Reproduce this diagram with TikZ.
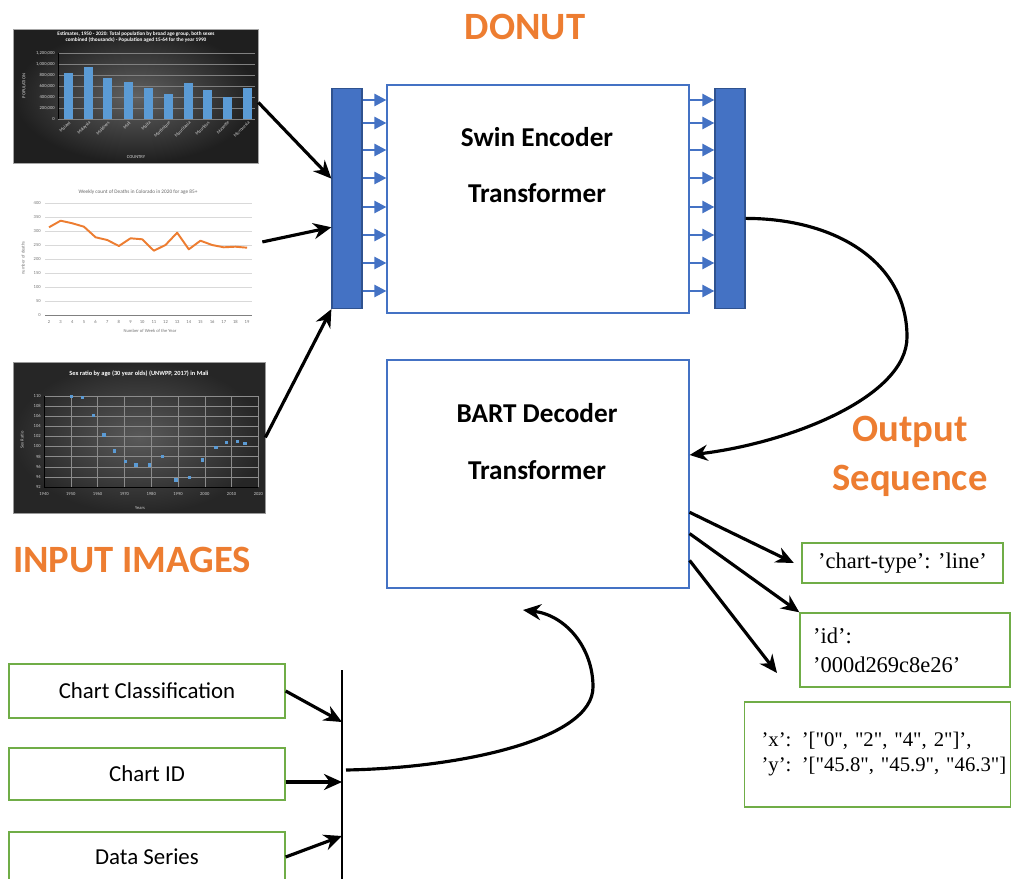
\documentclass[tikz,border=0pt]{standalone}
\usepackage{fontspec}
\setmainfont{Carlito}
\newfontfamily\jsonfont{Liberation Serif}
\usetikzlibrary{arrows.meta,calc}
\definecolor{donutorange}{RGB}{237,125,49}
\definecolor{blockblue}{RGB}{68,114,196}
\definecolor{bardark}{RGB}{47,82,143}
\definecolor{boxgreen}{RGB}{112,173,71}
\definecolor{datablue}{RGB}{91,155,213}

\begin{document}
\begin{tikzpicture}[x=0.02cm,y=-0.02cm,
   heading/.style={font=\fontsize{22}{28}\selectfont\bfseries,text=donutorange,align=center},
   blocktext/.style={font=\fontsize{15.5}{18}\selectfont\bfseries},
   block/.style={draw=blockblue,line width=0.7pt,inner sep=0pt,minimum width=6.04cm,minimum height=4.56cm},
   patchbar/.style={draw=bardark,fill=blockblue,line width=0.7pt,inner sep=0pt,minimum width=0.6cm,minimum height=4.4cm},
   patcharrow/.style={draw=blockblue,line width=1.4pt,-{Triangle[length=2.4mm,width=2.4mm]}},
   flow/.style={line width=1.8pt,-{Stealth[length=3.6mm,width=3.2mm]}},
   fieldbox/.style={draw=boxgreen,line width=0.8pt,inner sep=0pt,minimum width=5.52cm,font=\fontsize{13}{16}\selectfont},
   jsonbox/.style={draw=boxgreen,line width=0.8pt,font=\jsonfont\fontsize{12.8}{16.4}\selectfont},
   chartframe/.style={inner sep=0pt},
   tiny/.style={font=\fontsize{2.6}{3}\selectfont,inner sep=0pt}]

\useasboundingbox (0,0) rectangle (1013,878);

\node[chartframe,inner color=black!62,outer color=black!88,draw=black!35,minimum width=4.9cm,minimum height=2.68cm] (barchart) at (135.5,96) {};
\node[tiny,text=white,font=\bfseries\fontsize{3}{3.4}\selectfont,align=center] (bartitle) at (136,37.5) {Estimates, 1950 - 2020: Total population by broad age group, both sexes\\combined (thousands) - Population aged 15-64 for the year 1990};
\foreach \gy/\gl in {53/{1,200,000},64/{1,000,000},75/{800,000},86/{600,000},97/{400,000},108/{200,000},119/0}{
  \draw[black!50,line width=0.2pt] (58,\gy) -- (255,\gy);
  \node[tiny,text=black!15,anchor=east] at (55,\gy) {\gl};
}
\draw[black,line width=0.5pt] (58,53) -- (58,119);
\foreach \bx/\by/\cn in {68/73.3/Malawi,88/67.3/Malaysia,107/78.3/Maldives,128/81.7/Mali,148/88.3/Malta,168/94.3/Martinique,188/83.3/Mauritania,207/90/Mauritius,227/96.7/Mayotte,247/88.3/Micronesia}{
  \fill[datablue] (\bx-4.5,\by) rectangle (\bx+4.5,119);
  \node[tiny,text=black!15,rotate=45,anchor=east] at (\bx+2,122) {\cn};
}
\node[tiny,text=black!15,rotate=90] at (24,86) {POPULATION};
\node[tiny,text=black!15] at (136,157) {COUNTRY};

\node[chartframe,fill=white,minimum width=4.96cm,minimum height=2.8cm] (linechart) at (138,255) {};
\node[tiny,text=black!60,font=\fontsize{3}{3.4}\selectfont] (linetitle) at (138,192) {Weekly count of Deaths in Colorado in 2020 for age 85+};
\foreach \k/\gl in {0/400,1/350,2/300,3/250,4/200,5/150,6/100,7/50,8/0}{
  \draw[black!15,line width=0.3pt] (45,203+14*\k) -- (252,203+14*\k);
  \node[tiny,text=black!55,anchor=east] at (41,203+14*\k) {\gl};
}
\draw[black!50,line width=0.4pt] (45,315) -- (252,315);
\foreach \i in {2,...,19}
  \node[tiny,text=black!55] at (49+11.65*\i-23.3,322) {\i};
\node[tiny,text=black!55,rotate=90] at (23,258) {number of deaths};
\node[tiny,text=black!55] at (150,331) {Number of Week of the Year};
\draw[donutorange,line width=1.1pt,line join=round] (49,227.3) -- (60.65,220.7) -- (72.3,223.3) -- (83.95,226.7) -- (95.6,237.3) -- (107.25,240) -- (118.9,246) -- (130.55,238.3) -- (142.2,239.3) -- (153.85,250.7) -- (165.5,245) -- (177.15,232.7) -- (188.8,249.3) -- (200.45,240.7) -- (212.1,245) -- (223.75,247.3) -- (235.4,246.7) -- (247.05,247.7);

\node[chartframe,inner color=black!65,outer color=black!85,draw=black!40,minimum width=5.04cm,minimum height=3.02cm] (scatterchart) at (139,437.5) {};
\node[tiny,text=white,font=\bfseries\fontsize{3.6}{4}\selectfont] (scattertitle) at (139,374) {Sex ratio by age (30 year olds) (UNWPP, 2017) in Mali};
\foreach \k [evaluate=\k as \v using int(110-2*\k)] in {0,...,9}{
  \draw[black!45,line width=0.2pt] (44,396+10.1*\k) -- (258,396+10.1*\k);
  \node[tiny,text=black!20,anchor=east] at (41,396+10.1*\k) {\v};
}
\foreach \k [evaluate=\k as \yr using int(1940+10*\k)] in {0,...,8}{
  \draw[black!45,line width=0.2pt] (44+26.8*\k,396) -- (44+26.8*\k,487);
  \node[tiny,text=black!20] at (44+26.8*\k,494) {\yr};
}
\draw[black,line width=0.5pt] (44,396) -- (44,487) -- (258,487);
\foreach \sx/\sy in {71.7/396.7,82.7/397.7,93.3/415.7,104/435,114.3/451,125.3/461.7,136/465,149.3/465,162.7/456.7,176/480,189.3/477.3,202.7/460,216/447.3,226.7/442.3,237.3/441.7,245/443.7}
  \fill[datablue] (\sx-1.6,\sy-1.6) rectangle (\sx+1.6,\sy+1.6);
\node[tiny,text=black!20,rotate=90] at (22,440) {Sex Ratio};
\node[tiny,text=black!20] at (140,508) {Years};

\node[heading] (donut) at (525,27) {DONUT};
\node[heading] (inputs) at (132,560) {INPUT IMAGES};
\node[heading] (outseq) at (910,456) {Output\\Sequence};

\node[patchbar] (inbar) at (347,198.5) {};
\node[block] (enc) at (538,199) {};
\node[patchbar] (outbar) at (730,198.5) {};
\node[blocktext] (encname) at (537,137) {Swin Encoder};
\node[blocktext] (enctype) at (537,193) {Transformer};
\foreach \py in {100,123,150,178,207,235,263,291}{
  \coordinate (row) at (0,\py);
  \draw[patcharrow] (inbar.east |- row) -- (enc.west |- row);
  \draw[patcharrow] (enc.east |- row) -- (outbar.west |- row);
}

\node[block] (dec) at (538,474) {};
\node[blocktext] (decname) at (537,413) {BART Decoder};
\node[blocktext] (dectype) at (537,470) {Transformer};

\draw[flow] (barchart.-3) -- ($(inbar.north west)!.41!(inbar.south west)$);
\draw[flow] (linechart.6) -- ($(inbar.north west)!.63!(inbar.south west)$);
\draw[flow] (scatterchart.east) -- (inbar.south west);

\coordinate (loopR) at (907,337);
\draw[flow] ($(outbar.north east)!.59!(outbar.south east)$) .. controls +(90,0) and +(0,-75) .. (loopR)
   .. controls +(0,60) and +(100,-12) .. ($(dec.north east)!.417!(dec.south east)$);

\node[jsonbox,minimum width=4.02cm,minimum height=0.8cm] (ctype) at (902.5,563) {’chart-type’: ’line’};
\node[jsonbox,inner xsep=0.26cm,text width=3.68cm,minimum height=1.48cm,align=left] (idbox) at (905,650) {’id’:\\’000d269c8e26’};
\node[jsonbox,inner xsep=0.34cm,text width=4.64cm,minimum height=2.1cm,align=left,font=\jsonfont\fontsize{11.8}{14.2}\selectfont] (xybox) at (877.5,754.5) {\mbox{’x’: ’["0", "2", "4", 2"]’,}\\\mbox{’y’: ’["45.8", "45.9", "46.3"]}};
\coordinate (xyin) at (777,673);
\draw[flow] ($(dec.north east)!.667!(dec.south east)$) -- ([xshift=-0.15cm]ctype.west);
\draw[flow] ($(dec.north east)!.76!(dec.south east)$) -- (idbox.north west);
\draw[flow] ($(dec.north east)!.877!(dec.south east)$) -- (xyin);

\node[fieldbox,minimum height=1.08cm] (cls) at (147,691) {Chart Classification};
\node[fieldbox,minimum height=1.04cm] (cid) at (147,774) {Chart ID};
\node[fieldbox,minimum height=1.0cm] (dser) at (147,857) {Data Series};
\coordinate (vtop) at (342,670);
\coordinate (vbot) at (342,880);
\coordinate (join1) at (342,722);
\coordinate (join2) at (342,782);
\coordinate (join3) at (342,836);
\coordinate (merge) at (346,770);
\coordinate (loopL) at (593,687);
\coordinate (decin) at (523,610);
\draw[line width=1.2pt] (vtop) -- (vbot);
\draw[flow] (cls.east) -- (join1);
\draw[flow] (cid.east |- join2) -- (join2);
\draw[flow] (dser.east) -- (join3);
\draw[flow] (merge) .. controls +(113,-2) and +(0,53) .. (loopL)
   .. controls +(0,-40) and +(42,5) .. (decin);

\end{tikzpicture}
\end{document}
